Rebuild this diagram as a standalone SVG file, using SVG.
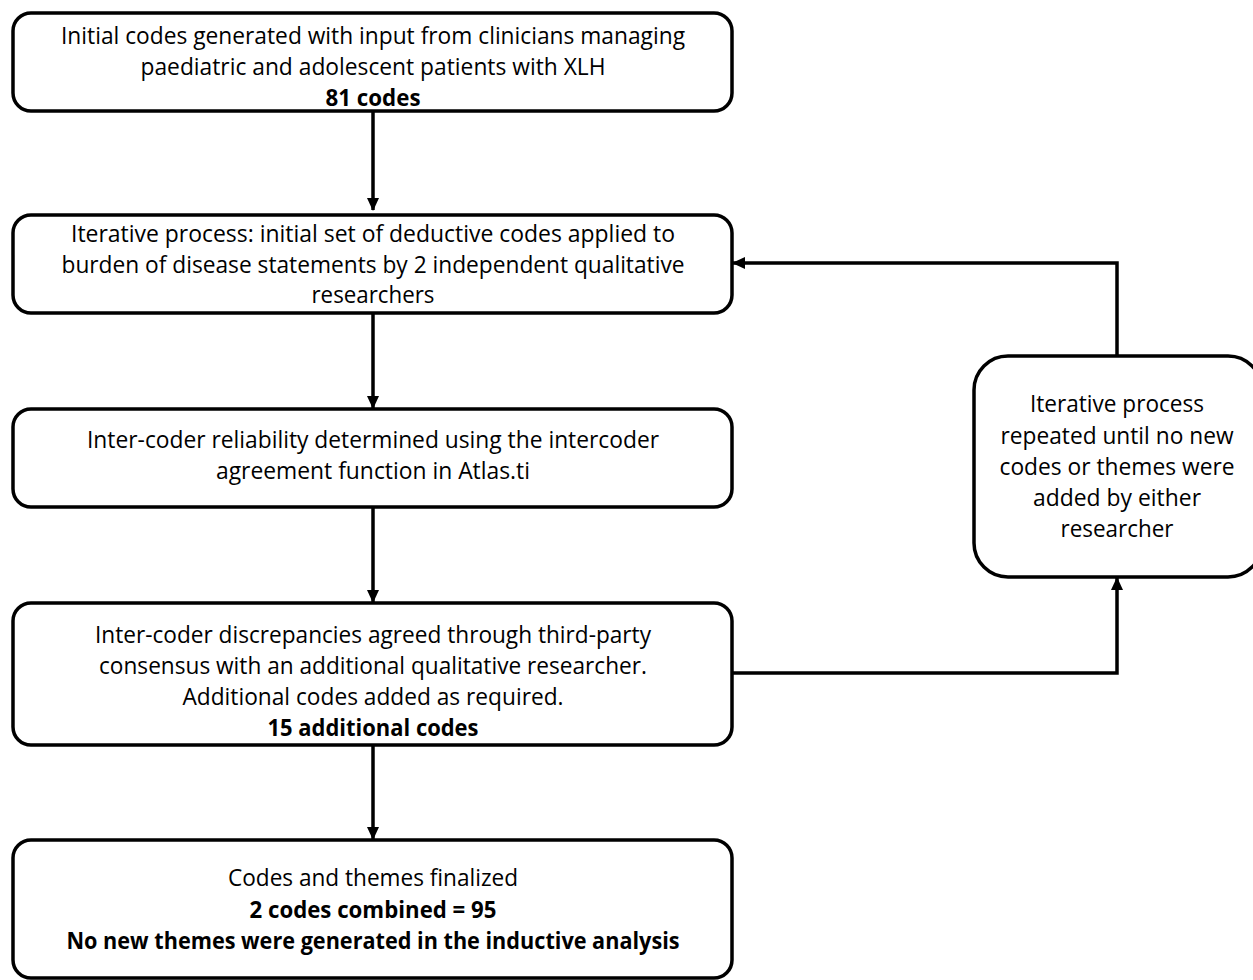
<svg xmlns="http://www.w3.org/2000/svg" width="1253" height="980" viewBox="0 0 1253 980">
<style>
.box{fill:#fff;stroke:#000;stroke-width:3.5}
.t{font-family:"Open Sans","Liberation Sans",sans-serif;font-size:23.5px;text-anchor:middle;fill:#000}
.b{font-weight:bold}
.c{fill:none;stroke:#000;stroke-width:3.5}
</style>
<defs>
<marker id="ah" markerWidth="13" markerHeight="12" refX="12" refY="6" orient="auto" markerUnits="userSpaceOnUse"><path d="M0,0 L13,6 L0,12 Z" fill="#000"/></marker>
</defs>
<rect width="1253" height="980" fill="#fff"/>
<g id="connectors">
<path class="c" d="M373,111 V210" marker-end="url(#ah)"/>
<path class="c" d="M373,313 V408" marker-end="url(#ah)"/>
<path class="c" d="M373,507 V602" marker-end="url(#ah)"/>
<path class="c" d="M373,745 V839" marker-end="url(#ah)"/>
<path class="c" d="M732,673 H1117 V578" marker-end="url(#ah)"/>
<path class="c" d="M1117,356 V263 H733" marker-end="url(#ah)"/>
</g>
<g id="n1">
<rect class="box" x="13" y="13" width="719" height="98" rx="18"/>
<text class="t" x="373" y="44" textLength="624" lengthAdjust="spacingAndGlyphs">Initial codes generated with input from clinicians managing</text>
<text class="t" x="373" y="75" textLength="465" lengthAdjust="spacingAndGlyphs">paediatric and adolescent patients with XLH</text>
<text class="t b" x="373" y="106" textLength="95" lengthAdjust="spacingAndGlyphs">81 codes</text>
</g>
<g id="n2">
<rect class="box" x="13" y="215" width="719" height="98" rx="18"/>
<text class="t" x="373" y="242" textLength="604" lengthAdjust="spacingAndGlyphs">Iterative process: initial set of deductive codes applied to</text>
<text class="t" x="373" y="273" textLength="623" lengthAdjust="spacingAndGlyphs">burden of disease statements by 2 independent qualitative</text>
<text class="t" x="373" y="303" textLength="123" lengthAdjust="spacingAndGlyphs">researchers</text>
</g>
<g id="n3">
<rect class="box" x="13" y="409" width="719" height="98" rx="18"/>
<text class="t" x="373" y="448" textLength="572" lengthAdjust="spacingAndGlyphs">Inter-coder reliability determined using the intercoder</text>
<text class="t" x="373" y="479" textLength="314" lengthAdjust="spacingAndGlyphs">agreement function in Atlas.ti</text>
</g>
<g id="n4">
<rect class="box" x="13" y="603" width="719" height="142" rx="18"/>
<text class="t" x="373" y="643" textLength="556" lengthAdjust="spacingAndGlyphs">Inter-coder discrepancies agreed through third-party</text>
<text class="t" x="373" y="674" textLength="548" lengthAdjust="spacingAndGlyphs">consensus with an additional qualitative researcher.</text>
<text class="t" x="373" y="705" textLength="381" lengthAdjust="spacingAndGlyphs">Additional codes added as required.</text>
<text class="t b" x="373" y="736" textLength="211" lengthAdjust="spacingAndGlyphs">15 additional codes</text>
</g>
<g id="n5">
<rect class="box" x="13" y="840" width="719" height="138" rx="18"/>
<text class="t" x="373" y="886" textLength="290" lengthAdjust="spacingAndGlyphs">Codes and themes finalized</text>
<text class="t b" x="373" y="918" textLength="247" lengthAdjust="spacingAndGlyphs">2 codes combined = 95</text>
<text class="t b" x="373" y="949" textLength="613" lengthAdjust="spacingAndGlyphs">No new themes were generated in the inductive analysis</text>
</g>
<g id="n6">
<rect class="box" x="974" y="356" width="288" height="221" rx="34"/>
<text class="t" x="1117" y="412" textLength="174" lengthAdjust="spacingAndGlyphs">Iterative process</text>
<text class="t" x="1117" y="444" textLength="233" lengthAdjust="spacingAndGlyphs">repeated until no new</text>
<text class="t" x="1117" y="475" textLength="235" lengthAdjust="spacingAndGlyphs">codes or themes were</text>
<text class="t" x="1117" y="506" textLength="168" lengthAdjust="spacingAndGlyphs">added by either</text>
<text class="t" x="1117" y="537" textLength="113" lengthAdjust="spacingAndGlyphs">researcher</text>
</g>
</svg>
